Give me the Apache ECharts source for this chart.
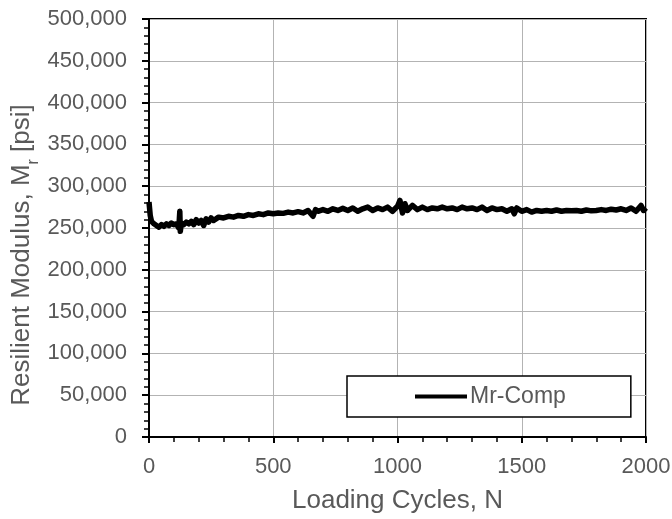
<!DOCTYPE html>
<html><head><meta charset="utf-8">
<script src="https://cdn.jsdelivr.net/npm/echarts@6/dist/echarts.min.js"></script>
<style>html,body{margin:0;padding:0;background:#fff}#c{width:672px;height:519px}</style>
</head><body><div id="c"></div>
<script>
const cycles = [0,5,10,20,30,40,50,60,70,80,90,100,110,120,124,126,130,140,150,160,170,180,190,200,210,220,230,240,250,260,280,300,320,340,360,380,400,420,440,460,480,500,520,540,560,580,600,620,640,660,670,680,700,720,740,760,780,800,820,840,860,880,900,920,940,960,980,1000,1010,1020,1030,1040,1060,1080,1100,1120,1140,1160,1180,1200,1220,1240,1260,1280,1300,1320,1340,1360,1380,1400,1420,1440,1460,1470,1480,1500,1520,1540,1560,1580,1600,1620,1640,1660,1680,1700,1720,1740,1760,1780,1800,1820,1840,1860,1880,1900,1920,1940,1960,1980,1990,2000];
const modulus = [281000,265000,258000,255000,253000,251000,254000,252000,255000,253000,256000,254000,255000,250000,270000,246000,256000,254000,257000,255000,258000,254000,260000,256000,259000,253000,261000,257000,262000,259000,263000,262000,264000,263000,265000,264000,266000,265000,267000,266000,268000,267000,268000,267500,269000,268000,269500,268000,271000,264000,272000,270000,272000,270000,273000,271000,273500,271000,274000,270000,273000,275000,271000,274000,272000,275000,270000,276000,283000,268000,279000,271000,277000,272000,275000,272000,274000,273000,275000,273000,274000,272000,275000,273000,274000,272000,275000,271000,274000,272000,273000,270000,273000,267000,274000,270000,272000,269000,271000,270000,271000,270000,271500,270000,271000,270500,271000,270000,271500,270500,271000,272000,271000,272500,271500,273000,271000,274000,270000,277000,271000,274000];
const seriesName = 'Mr-Comp';
const xTicks = [0,500,1000,1500,2000];
const yTicks = [0,50000,100000,150000,200000,250000,300000,350000,400000,450000,500000];

const chart = echarts.init(document.getElementById('c'), null, {renderer:'canvas'});
const font = 'Liberation Sans, Arial, sans-serif';
const grey = '#595959';
chart.setOption({
  animation:false,
  backgroundColor:'#fff',
  grid:{left:149, top:19, right:26, bottom:82, containLabel:false, outerBoundsMode:'none', show:true, borderColor:'#000', borderWidth:2, backgroundColor:'transparent'},
  xAxis:{type:'value', min:xTicks[0], max:xTicks[xTicks.length-1], interval:500,
    name:'Loading Cycles, N', nameLocation:'middle', nameGap:51, nameMoveOverlap:false,
    nameTextStyle:{fontFamily:font, fontSize:26, color:grey},
    axisLine:{show:true, onZero:false, lineStyle:{color:'#000', width:2}},
    axisTick:{show:true, length:6, lineStyle:{color:'#000', width:2}},
    minorTick:{show:true, splitNumber:5, length:5, lineStyle:{color:'#000', width:1.5}},
    splitLine:{show:true, lineStyle:{color:'#b3b3b3', width:1}},
    axisLabel:{fontFamily:font, fontSize:22, color:grey, margin:19, formatter:v=>String(v)}
  },
  yAxis:{type:'value', min:yTicks[0], max:yTicks[yTicks.length-1], interval:50000,
    name:'{a|Resilient Modulus, M}{s|r}{a| [psi]}', nameLocation:'middle', nameGap:114, nameRotate:90, nameMoveOverlap:false,
    nameTextStyle:{fontFamily:font, fontSize:26, color:grey, padding:[0,54,0,0],
      rich:{a:{fontFamily:font, fontSize:26, color:grey}, s:{fontFamily:font, fontSize:16, color:grey, verticalAlign:'bottom', padding:[0,0,-7,0]}}},
    axisLine:{show:true, onZero:false, lineStyle:{color:'#000', width:2}},
    axisTick:{show:true, length:7, lineStyle:{color:'#000', width:2}},
    minorTick:{show:true, splitNumber:5, length:5, lineStyle:{color:'#000', width:1.5}},
    splitLine:{show:true, lineStyle:{color:'#b3b3b3', width:1}},
    axisLabel:{fontFamily:font, fontSize:22, color:grey, margin:22,
      formatter:v=>v.toLocaleString('en-US')}
  },
  legend:{show:true, left:347, top:376, orient:'horizontal',
    padding:[9,65,9,68], itemWidth:52, itemHeight:4, itemGap:4,
    borderColor:'#000', borderWidth:1.5, backgroundColor:'#fff',
    textStyle:{fontFamily:font, fontSize:23, color:grey, padding:[0,0,0,-2]},
    data:[{name:seriesName, icon:'rect', itemStyle:{color:'#000'}}]
  },
  series:[{name:seriesName, type:'line', showSymbol:false, symbol:'none',
    data:cycles.map((c,i)=>[c, modulus[i]]),
    lineStyle:{color:'#000', width:5.5, join:'round'}, itemStyle:{color:'#000'}
  }]
});
</script></body></html>
